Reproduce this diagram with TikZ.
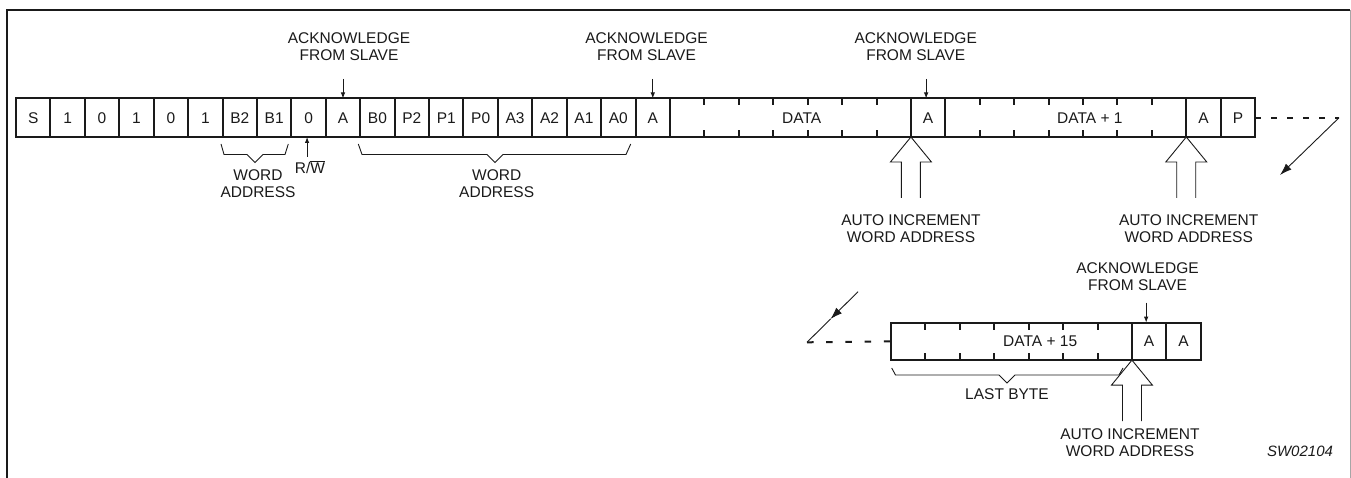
\documentclass[tikz,border=0pt]{standalone}
\usepackage{fontspec}
\setmainfont{Liberation Sans}
\usetikzlibrary{arrows.meta}
\definecolor{ink}{HTML}{1A1A1A}
\begin{document}
\begin{tikzpicture}[x=1pt,y=-1pt,
  lbl/.style={font=\fontsize{15.5}{17}\selectfont, text=ink, align=center, inner sep=0pt},
  cell/.style={draw=ink, line width=2pt, minimum width=34.42pt, minimum height=38.5pt,
               inner sep=0pt, outer sep=0pt, font=\fontsize{15.5}{17}\selectfont, text=ink},
  lowcell/.style={cell, minimum height=37.5pt},
  tickline/.style={draw=ink, line width=2pt},
  thinline/.style={draw=ink, line width=0.9pt},
  hollow/.style={draw=ink, line width=0.9pt, fill=white},
  ackarrow/.style={draw=ink, line width=0.9pt, -{Latex[length=6pt,width=4.5pt]}},
  bigarrow/.style={draw=ink, line width=0.9pt, -{Latex[length=12pt,width=8pt]}},
  bracepath/.style={draw=ink, line width=0.9pt},
  dashtop/.style={draw=ink, line width=2pt, dash pattern=on 6pt off 10pt},
  dashlow/.style={draw=ink, line width=2pt, dash pattern=on 6.5pt off 12.7pt},
  framedark/.style={draw=ink, line width=2.2pt},
  framegray/.style={draw=black!35, line width=1pt},
  hollowup/.pic={\path[hollow] (-9.5,61) -- (-9.5,25) -- (-20.5,25) -- (0,0) -- (20.5,25) -- (9.5,25) -- (9.5,61);}
]
\useasboundingbox (0,0) rectangle (1351,478);
% frame
\draw[framedark] (7,478) -- (7,10) -- (1350,10);
\draw[framegray] (1350,10) -- (1350,478);

% ---------- first row ----------
\foreach \lab [count=\i from 0] in {S,1,0,1,0,1,B2,B1,0,A,B0,P2,P1,P0,A3,A2,A1,A0,A}
  \node[cell] (c\i) at ({16+34.42*(\i+0.5)},117.75) {\lab};

\node[cell, minimum width=240.94pt] (d1) at (790.45,117.75) {};
\node[lbl, anchor=west] (d1t) at (782,117.75) {DATA};
\foreach \k in {1,...,6} {
  \draw[tickline] ({669.98+34.42*\k},98.5) -- ++(0,7);
  \draw[tickline] ({669.98+34.42*\k},137) -- ++(0,-7);
}
\node[cell] (c26) at (928.13,117.75) {A};
\node[cell, minimum width=240.94pt] (d2) at (1065.81,117.75) {};
\node[lbl, anchor=west] (d2t) at (1057,117.75) {DATA + 1};
\foreach \k in {1,...,6} {
  \draw[tickline] ({945.34+34.42*\k},98.5) -- ++(0,7);
  \draw[tickline] ({945.34+34.42*\k},137) -- ++(0,-7);
}
\node[cell] (c34) at (1203.49,117.75) {A};
\node[cell] (c35) at (1237.91,117.75) {P};

% acknowledge labels row 1
\node[lbl] (ack1) at (349,46.7) {ACKNOWLEDGE\\FROM SLAVE};
\node[lbl] (ack2) at (646.5,46.7) {ACKNOWLEDGE\\FROM SLAVE};
\node[lbl] (ack3) at (915.7,46.7) {ACKNOWLEDGE\\FROM SLAVE};
\draw[ackarrow] ([yshift=19.5pt]c9.north) -- (c9.north);
\draw[ackarrow] ([yshift=19.5pt]c18.north) -- (c18.north);
\draw[ackarrow] ([yshift=19.5pt,xshift=-2pt]c26.north) -- ([xshift=-2pt]c26.north);

% braces row 1
\draw[bracepath] (221,144) -- (224,154.5) -- (247,154.5) -- (255,162.5) -- (263,154.5) -- (285,154.5) -- (288.3,144);
\node[lbl] (wa1) at (258,184) {WORD\\ADDRESS};
\draw[bracepath] (358.3,144) -- (362,154.5) -- (487,154.5) -- (495,162.5) -- (503,154.5) -- (626,154.5) -- (630.7,144);
\node[lbl] (wa2) at (496.7,184) {WORD\\ADDRESS};

% R/W
\draw[ackarrow] ([yshift=-20pt,xshift=-1.5pt]c8.south) -- ([xshift=-1.5pt]c8.south);
\node[lbl] (rw) at (310,167) {R/$\overline{\hbox{W}}$};

% auto increment arrows row 1
\pic at (c26.south west) {hollowup};
\pic at (c34.south west) {hollowup};
\node[lbl] (ai1) at (911,229) {AUTO INCREMENT\\WORD ADDRESS};
\node[lbl] (ai2) at (1188.7,229) {AUTO INCREMENT\\WORD ADDRESS};

% continuation top
\coordinate (dr1) at (1339,117.75);
\coordinate (dr2) at (1280,175);
\draw[dashtop] (c35.east) -- (dr1);
\draw[bigarrow] (dr1) -- (dr2);

% ---------- second row ----------
\node[lowcell, minimum width=240.94pt] (d3) at (1011.47,341.4) {};
\node[lbl, anchor=west] (d3t) at (1003,341.4) {DATA + 15};
\foreach \k in {1,...,6} {
  \draw[tickline] ({891+34.42*\k},322.65) -- ++(0,7);
  \draw[tickline] ({891+34.42*\k},360.15) -- ++(0,-7);
}
\node[lowcell] (b1) at (1149.15,341.4) {A};
\node[lowcell] (b2) at (1183.57,341.4) {A};

\node[lbl] (ack4) at (1137.5,276.5) {ACKNOWLEDGE\\FROM SLAVE};
\draw[ackarrow] ([yshift=20pt,xshift=-3pt]b1.north) -- ([xshift=-3pt]b1.north);

% continuation bottom
\coordinate (bl1) at (858,291.7);
\coordinate (blm) at (830.5,319);
\coordinate (bl2) at (807,342.3);
\draw[bigarrow] (bl1) -- (blm);
\draw[thinline] (blm) -- (bl2);
\draw[dashlow] (bl2) -- (d3.west);

% last byte brace
\draw[bracepath] (891.7,368) -- (895.5,375) -- (999,375) -- (1007,383) -- (1015,375) -- (1119,375) -- (1123,368);
\node[lbl] (lb) at (1007,394) {LAST BYTE};

\pic at (d3.south east) {hollowup};
\node[lbl] (ai3) at (1130,443) {AUTO INCREMENT\\WORD ADDRESS};

\node[lbl, font=\fontsize{15}{17}\selectfont\itshape] (sw) at (1300,451.5) {SW02104};
\end{tikzpicture}
\end{document}
